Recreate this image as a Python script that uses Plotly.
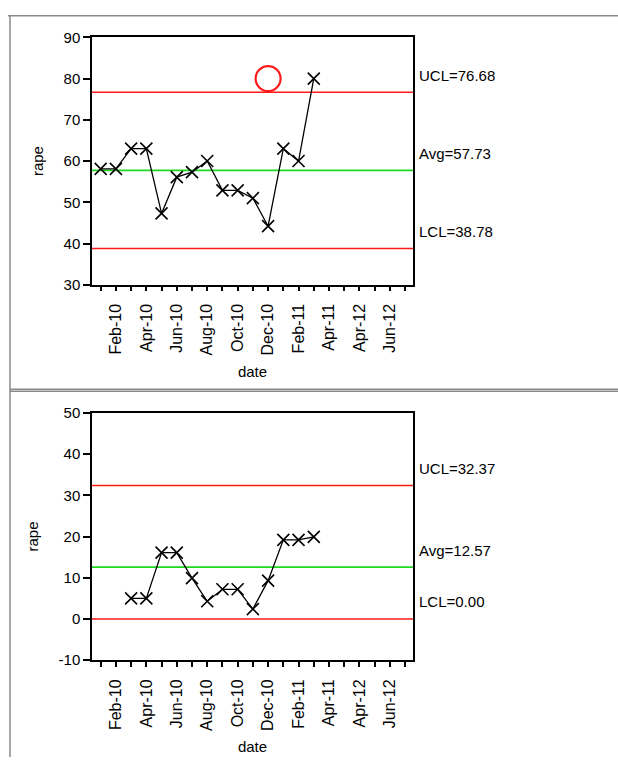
import plotly.graph_objects as go

W, H = 618, 765

# ---- data ----
tick_labels = ["", "Feb-10", "", "Apr-10", "", "Jun-10", "", "Aug-10", "", "Oct-10", "",
               "Dec-10", "", "Feb-11", "", "Apr-11", "", "Apr-12", "", "Jun-12", ""]
slot_names = ["Jan-10", "Feb-10", "Mar-10", "Apr-10", "May-10", "Jun-10", "Jul-10", "Aug-10",
              "Sep-10", "Oct-10", "Nov-10", "Dec-10", "Jan-11", "Feb-11", "Mar-11"]

top_dates = ["Jan-10", "Feb-10", "Mar-10", "Apr-10", "May-10", "Jun-10", "Jul-10", "Aug-10",
             "Sep-10", "Oct-10", "Nov-10", "Dec-10", "Jan-11", "Feb-11", "Mar-11"]
top_values = [58.1, 58.1, 63.0, 63.0, 47.3, 56.1, 57.3, 60.0, 52.9, 52.9, 51.0, 44.2, 63.0, 60.0, 80.0]
top_limits = {"UCL": 76.68, "Avg": 57.73, "LCL": 38.78}
top_flag_date = ["Dec-10"]
top_flag_value = [80.0]
top_y_ticks = [30, 40, 50, 60, 70, 80, 90]

bot_dates = ["Mar-10", "Apr-10", "May-10", "Jun-10", "Jul-10", "Aug-10",
             "Sep-10", "Oct-10", "Nov-10", "Dec-10", "Jan-11", "Feb-11", "Mar-11"]
bot_values = [5.0, 5.0, 16.1, 16.1, 9.9, 4.3, 7.2, 7.2, 2.4, 9.3, 19.2, 19.2, 19.9]
bot_limits = {"UCL": 32.37, "Avg": 12.57, "LCL": 0.00}
bot_y_ticks = [-10, 0, 10, 20, 30, 40, 50]

FONT = "Liberation Sans, Arial, sans-serif"
RED = "#ff1a1a"
GREEN = "#1ed81e"


def pos(d):
    return slot_names.index(d)


def px_x(p):
    return p / W


def px_y(p):
    return 1 - p / H


fig = go.Figure()

panels = [
    ("", "y", top_dates, top_values, top_limits),
    ("2", "y2", bot_dates, bot_values, bot_limits),
]

for suffix, yref, dates, vals, lims in panels:
    xa = "x" + suffix
    fig.add_trace(go.Scatter(
        x=[pos(d) for d in dates], y=vals, mode="lines+markers",
        line=dict(color="black", width=1.3),
        marker=dict(symbol="x-thin-open", size=12, color="black",
                    line=dict(color="black", width=1.6)),
        xaxis=xa, yaxis=yref, showlegend=False, hoverinfo="x+y"))
    for name, v in lims.items():
        col = GREEN if name == "Avg" else RED
        fig.add_shape(type="line", xref=xa + " domain", yref=yref, x0=0, x1=1, y0=v, y1=v,
                      line=dict(color=col, width=1.6), layer="below")
        fig.add_annotation(xref=xa + " domain", yref=yref, x=1, y=v, xanchor="left",
                           yanchor="middle", xshift=4, yshift=17, showarrow=False,
                           text=f"{name}={v:.2f}", font=dict(family=FONT, size=15, color="black"))

fig.add_trace(go.Scatter(
    x=[pos(d) for d in top_flag_date], y=top_flag_value, mode="markers",
    marker=dict(symbol="circle-open", size=25, color=RED, line=dict(color=RED, width=2.2)),
    xaxis="x", yaxis="y", showlegend=False, hoverinfo="skip"))

xdom = [px_x(92), px_x(413)]
common_x = dict(domain=xdom, range=[-0.57, 20.52], tickmode="array",
                tickvals=list(range(len(tick_labels))), ticktext=tick_labels,
                tickangle=-90, ticks="outside", ticklen=5, tickwidth=1.5, tickcolor="black",
                showline=True, linecolor="black", linewidth=1.5, mirror=True,
                showgrid=False, zeroline=False, ticklabelstandoff=6,
                tickfont=dict(family=FONT, size=16, color="black"),
                title=dict(text="date", font=dict(family=FONT, size=15, color="black"), standoff=12))
common_y = dict(tickmode="array", ticks="outside", ticklen=7, tickwidth=1.5, tickcolor="black",
                showline=True, linecolor="black", linewidth=1.5, mirror=True,
                showgrid=False, zeroline=False,
                tickfont=dict(family=FONT, size=15, color="black"),
                title=dict(text="rape", font=dict(family=FONT, size=15, color="black"), standoff=16))

fig.update_layout(
    width=W, height=H, margin=dict(l=0, r=0, t=0, b=0),
    paper_bgcolor="white", plot_bgcolor="white",
    xaxis=dict(common_x, anchor="y"),
    yaxis=dict(common_y, anchor="x", range=[30, 90], domain=[px_y(282), px_y(29)],
               tickvals=top_y_ticks, ticktext=[str(t) for t in top_y_ticks]),
    xaxis2=dict(common_x, anchor="y2"),
    yaxis2=dict(common_y, anchor="x2", range=[-10, 50], domain=[px_y(666), px_y(413)],
                tickvals=bot_y_ticks, ticktext=[str(t) for t in bot_y_ticks]),
)

# frame lines of the report panels
GRAY = "#8a8a8a"
frame = [
    (px_x(8), px_y(7), 1.0, px_y(7)),
    (px_x(10), px_y(7), px_x(10), 0.0),
    (px_x(10), px_y(389), 1.0, px_y(389)),
    (px_x(10), px_y(391), 1.0, px_y(391)),
]
for x0, y0, x1, y1 in frame:
    fig.add_shape(type="line", xref="paper", yref="paper", x0=x0, y0=y0, x1=x1, y1=y1,
                  line=dict(color=GRAY, width=1.5))

fig.write_html("out.html", config={"displayModeBar": False},
               post_script="document.body.style.margin='0';document.body.style.overflow='hidden';")
